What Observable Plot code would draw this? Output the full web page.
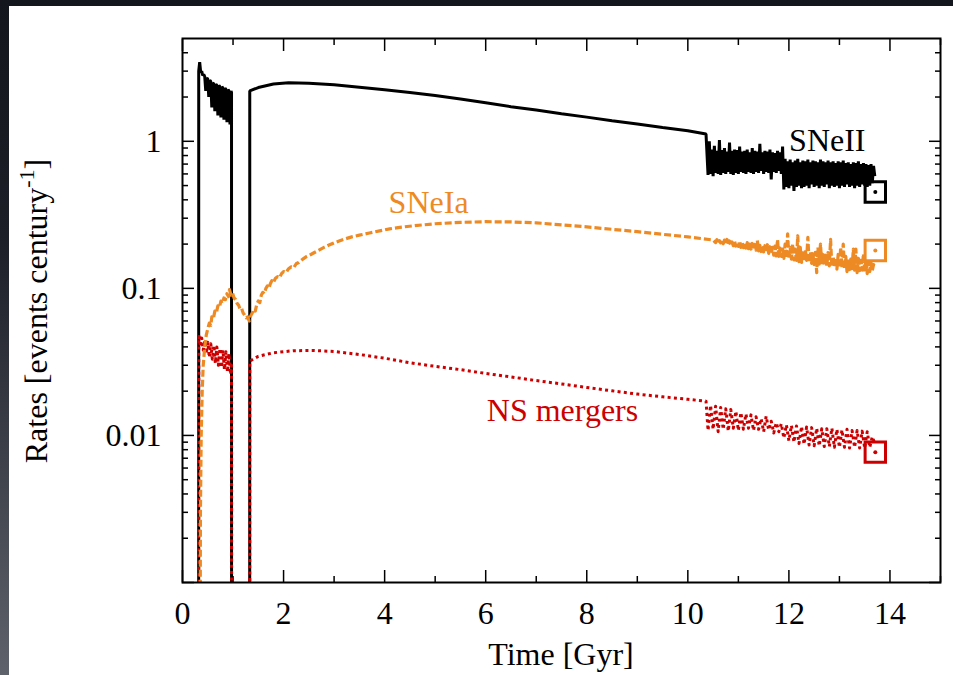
<!DOCTYPE html>
<html>
<head>
<meta charset="utf-8">
<script src="https://cdn.jsdelivr.net/npm/d3@7"></script>
<script src="https://cdn.jsdelivr.net/npm/@observablehq/plot@0.6"></script>
<style>
  html, body { margin: 0; padding: 0; width: 953px; height: 675px; overflow: hidden; }
  body { position: relative; background: linear-gradient(180deg, #14161d 0%, #1c1f27 35%, #5e626a 100%); }
  #panel { position: absolute; left: 9px; top: 6px; width: 944px; height: 669px; background: #fff; overflow: hidden; }
</style>
</head>
<body>
<div id="panel"></div>
<script>
// ---- Axis ticks ----
const majorTime = [0, 2, 4, 6, 8, 10, 12, 14];
const minorTime = [1, 3, 5, 7, 9, 11, 13, 15];
const majorRateTicks = [0.001, 0.01, 0.1, 1];
const labeledRateTicks = [0.01, 0.1, 1];
const minorRateTicks = [0.002, 0.003, 0.004, 0.005, 0.006, 0.007, 0.008, 0.009,
  0.02, 0.03, 0.04, 0.05, 0.06, 0.07, 0.08, 0.09,
  0.2, 0.3, 0.4, 0.5, 0.6, 0.7, 0.8, 0.9, 2, 3, 4];

// ---- SNeII rate (events per century) ----
const sn2Time = [0.32, 0.321, 0.34, 0.36, 0.38, 0.40, 0.42, 0.44, 0.46, 0.48, 0.50, 0.52, 0.54, 0.56, 0.58,
  0.60, 0.62, 0.64, 0.66, 0.68, 0.70, 0.72, 0.74, 0.76, 0.78, 0.80, 0.82, 0.84, 0.86, 0.88, 0.90,
  0.92, 0.94, 0.96, 0.97, 0.971,
  1.33, 1.331, 1.5, 1.8, 2.1, 2.5, 3.0, 3.5, 4.0, 4.5, 5.0, 5.5, 6.0, 6.5, 7.0, 7.5, 8.0, 8.5, 9.0,
  9.5, 10.0, 10.36,
  10.400, 10.425, 10.450, 10.475, 10.500, 10.525, 10.550, 10.575, 10.600, 10.625,
  10.650, 10.675, 10.700, 10.725, 10.750, 10.775, 10.800, 10.825, 10.850, 10.875,
  10.900, 10.925, 10.950, 10.975, 11.000, 11.025, 11.050, 11.075, 11.100, 11.125,
  11.150, 11.175, 11.200, 11.225, 11.250, 11.275, 11.300, 11.325, 11.350, 11.375,
  11.400, 11.425, 11.450, 11.475, 11.500, 11.525, 11.550, 11.575, 11.600, 11.625,
  11.650, 11.675, 11.700, 11.725, 11.750, 11.775, 11.800, 11.825, 11.850, 11.875,
  11.900, 11.925, 11.950, 11.975, 12.000, 12.025, 12.050, 12.075, 12.100, 12.125,
  12.150, 12.175, 12.200, 12.225, 12.250, 12.275, 12.300, 12.325, 12.350, 12.375,
  12.400, 12.425, 12.450, 12.475, 12.500, 12.525, 12.550, 12.575, 12.600, 12.625,
  12.650, 12.675, 12.700, 12.725, 12.750, 12.775, 12.800, 12.825, 12.850, 12.875,
  12.900, 12.925, 12.950, 12.975, 13.000, 13.025, 13.050, 13.075, 13.100, 13.125,
  13.150, 13.175, 13.200, 13.225, 13.250, 13.275, 13.300, 13.325, 13.350, 13.375,
  13.400, 13.425, 13.450, 13.475, 13.500, 13.525, 13.550, 13.575, 13.600, 13.625,
  13.650, 13.675, 13.700];
const sn2Rate = [0.0005, 3.0, 3.45, 2.95, 3.0, 2.8, 2.85, 2.75, 2.2, 2.7, 2.65, 2.0, 2.6, 2.55, 1.7,
  2.5, 2.45, 1.6, 2.45, 2.4, 1.5, 2.4, 2.35, 1.45, 2.35, 2.3, 1.4, 2.3, 2.25, 1.35, 2.25,
  2.2, 1.3, 2.2, 2.15, 0.0005,
  0.0005, 2.2, 2.32, 2.45, 2.5, 2.48, 2.42, 2.33, 2.24, 2.15, 2.05, 1.94, 1.83, 1.72, 1.63, 1.54, 1.46, 1.38, 1.31,
  1.24, 1.18, 1.12,
  0.59, 1.0, 0.60, 0.88, 0.58, 0.93, 0.61, 0.86, 0.60, 1.02,
  0.59, 0.87, 0.61, 0.9, 0.60, 0.85, 0.62, 0.98, 0.60, 0.86,
  0.59, 0.88, 0.61, 0.87, 0.60, 0.92, 0.62, 0.85, 0.61, 0.86,
  0.60, 0.88, 0.62, 0.84, 0.61, 0.9, 0.60, 0.86, 0.62, 0.85,
  0.61, 0.96, 0.63, 0.84, 0.60, 0.86, 0.62, 0.85, 0.61, 0.88,
  0.55, 0.84, 0.62, 0.83, 0.61, 0.86, 0.63, 0.84, 0.60, 0.92,
  0.47, 0.76, 0.49, 0.73, 0.48, 0.75, 0.5, 0.72, 0.46, 0.74,
  0.49, 0.76, 0.5, 0.72, 0.48, 0.74, 0.49, 0.73, 0.5, 0.75,
  0.48, 0.72, 0.51, 0.74, 0.49, 0.73, 0.5, 0.72, 0.48, 0.75,
  0.5, 0.73, 0.49, 0.72, 0.51, 0.74, 0.48, 0.72, 0.5, 0.73,
  0.49, 0.71, 0.5, 0.73, 0.48, 0.72, 0.5, 0.74, 0.49, 0.71,
  0.51, 0.72, 0.49, 0.7, 0.5, 0.72, 0.48, 0.71, 0.5, 0.73,
  0.49, 0.7, 0.51, 0.71, 0.5, 0.7, 0.49, 0.69, 0.5, 0.7,
  0.52, 0.68, 0.58];

// ---- SNeIa rate ----
const snIaTime = [0.35, 0.355, 0.37, 0.39, 0.41, 0.44, 0.47, 0.50, 0.53, 0.56, 0.58, 0.61, 0.64, 0.67,
  0.70, 0.73, 0.76, 0.79, 0.82, 0.85, 0.88, 0.91, 0.93, 0.96, 0.99, 1.02, 1.05, 1.08, 1.11, 1.14,
  1.17, 1.20, 1.23, 1.26, 1.29, 1.32, 1.35, 1.38, 1.41, 1.44, 1.47, 1.50, 1.53, 1.56, 1.59, 1.62,
  1.65, 1.68, 1.71, 1.74, 1.77, 1.80, 1.84, 1.88, 1.92, 1.96, 2.00, 2.05, 2.10, 2.15, 2.20, 2.25,
  2.30, 2.38, 2.46, 2.54, 2.62, 2.70, 2.80, 2.90, 3.00, 3.10, 3.20, 3.35, 3.50, 3.70, 3.90, 4.10,
  4.30, 4.60, 5.00, 5.50, 6.00, 6.50, 7.00, 7.50, 8.00, 8.50, 9.00, 9.50, 10.00, 10.50,
  10.550, 10.575, 10.600, 10.625, 10.650, 10.675, 10.700, 10.725, 10.750, 10.775,
  10.800, 10.825, 10.850, 10.875, 10.900, 10.925, 10.950, 10.975, 11.000, 11.025,
  11.050, 11.075, 11.100, 11.125, 11.150, 11.175, 11.200, 11.225, 11.250, 11.275,
  11.300, 11.325, 11.350, 11.375, 11.400, 11.425, 11.450, 11.475, 11.500, 11.525,
  11.550, 11.575, 11.600, 11.625, 11.650, 11.675, 11.700, 11.725, 11.750, 11.775,
  11.800, 11.825, 11.850, 11.875, 11.900, 11.925, 11.950, 11.975, 12.000, 12.025,
  12.050, 12.075, 12.100, 12.125, 12.150, 12.175, 12.200, 12.225, 12.250, 12.275,
  12.300, 12.325, 12.350, 12.375, 12.400, 12.425, 12.450, 12.475, 12.500, 12.525,
  12.550, 12.575, 12.600, 12.625, 12.650, 12.675, 12.700, 12.725, 12.750, 12.775,
  12.800, 12.825, 12.850, 12.875, 12.900, 12.925, 12.950, 12.975, 13.000, 13.025,
  13.050, 13.075, 13.100, 13.125, 13.150, 13.175, 13.200, 13.225, 13.250, 13.275,
  13.300, 13.325, 13.350, 13.375, 13.400, 13.425, 13.450, 13.475, 13.500, 13.525,
  13.550, 13.575, 13.600, 13.625, 13.650, 13.675, 13.700];
const snIaRate = [0.0005, 0.003, 0.01, 0.02, 0.03, 0.04, 0.048, 0.053, 0.058, 0.056, 0.064, 0.062, 0.07, 0.068,
  0.076, 0.074, 0.082, 0.079, 0.086, 0.084, 0.092, 0.088, 0.098, 0.09, 0.093, 0.086, 0.084, 0.079, 0.077, 0.072,
  0.073, 0.068, 0.066, 0.063, 0.064, 0.06, 0.065, 0.068, 0.072, 0.07, 0.078, 0.082, 0.08, 0.09, 0.094, 0.092,
  0.1, 0.104, 0.1, 0.108, 0.113, 0.11, 0.117, 0.12, 0.118, 0.126, 0.13, 0.128, 0.136, 0.14, 0.138, 0.147,
  0.15, 0.158, 0.165, 0.17, 0.176, 0.182, 0.19, 0.197, 0.204, 0.21, 0.216, 0.224, 0.23, 0.238, 0.246, 0.254,
  0.26, 0.267, 0.275, 0.281, 0.284, 0.283, 0.279, 0.27, 0.262, 0.252, 0.243, 0.233, 0.224, 0.213,
  0.205, 0.214, 0.203, 0.211, 0.204, 0.212, 0.201, 0.213, 0.2, 0.215,
  0.198, 0.21, 0.197, 0.207, 0.195, 0.209, 0.194, 0.206, 0.193, 0.21,
  0.19, 0.204, 0.189, 0.203, 0.188, 0.205, 0.186, 0.2, 0.185, 0.202,
  0.183, 0.199, 0.182, 0.212, 0.18, 0.196, 0.178, 0.197, 0.177, 0.195,
  0.176, 0.198, 0.173, 0.192, 0.172, 0.19, 0.168, 0.194, 0.166, 0.215,
  0.165, 0.188, 0.165, 0.185, 0.16, 0.2, 0.16, 0.235, 0.158, 0.19,
  0.158, 0.2, 0.156, 0.185, 0.155, 0.228, 0.152, 0.19, 0.15, 0.18,
  0.152, 0.182, 0.155, 0.222, 0.15, 0.178, 0.148, 0.172, 0.145, 0.176,
  0.128, 0.19, 0.146, 0.2, 0.146, 0.17, 0.145, 0.168, 0.142, 0.175,
  0.142, 0.215, 0.14, 0.165, 0.14, 0.162, 0.135, 0.17, 0.138, 0.19,
  0.138, 0.2, 0.136, 0.165, 0.13, 0.16, 0.134, 0.158, 0.136, 0.185,
  0.133, 0.185, 0.128, 0.16, 0.132, 0.155, 0.133, 0.172, 0.13, 0.155,
  0.126, 0.15, 0.13, 0.15, 0.132, 0.145, 0.14];

// ---- NS merger rate ----
const nsTime = [0.32, 0.321, 0.33, 0.35, 0.38, 0.41, 0.44, 0.47, 0.50, 0.53, 0.56, 0.59, 0.62, 0.65, 0.68,
  0.71, 0.74, 0.77, 0.80, 0.83, 0.86, 0.89, 0.92, 0.95, 0.97, 0.971,
  1.33, 1.331, 1.5, 1.8, 2.2, 2.6, 3.0, 3.5, 4.0, 4.5, 5.0, 5.5, 6.0, 6.5, 7.0, 7.5, 8.0, 8.5, 9.0,
  9.5, 10.0, 10.36,
  10.40, 10.45, 10.50, 10.55, 10.60, 10.65, 10.70, 10.75, 10.80, 10.85, 10.90, 10.95, 11.00, 11.05,
  11.10, 11.15, 11.20, 11.25, 11.30, 11.35, 11.40, 11.45, 11.50, 11.55, 11.60, 11.65, 11.70, 11.75,
  11.80, 11.85, 11.90, 11.95, 12.00, 12.05, 12.10, 12.15, 12.20, 12.25, 12.30, 12.35, 12.40, 12.45,
  12.50, 12.55, 12.60, 12.65, 12.70, 12.75, 12.80, 12.85, 12.90, 12.95, 13.00, 13.05, 13.10, 13.15,
  13.20, 13.25, 13.30, 13.35, 13.40, 13.45, 13.50, 13.55, 13.60, 13.65, 13.70];
const nsRate = [0.0005, 0.044, 0.047, 0.04, 0.046, 0.038, 0.044, 0.036, 0.043, 0.034, 0.042, 0.033, 0.041, 0.031, 0.04,
  0.03, 0.039, 0.029, 0.038, 0.028, 0.037, 0.027, 0.036, 0.026, 0.03, 0.0005,
  0.0005, 0.032, 0.0345, 0.0365, 0.0377, 0.0378, 0.0372, 0.0355, 0.0335, 0.0312, 0.0295, 0.028, 0.0264, 0.025, 0.0236, 0.0224, 0.0212, 0.0201, 0.0191,
  0.0183, 0.0176, 0.0171,
  0.0108, 0.016, 0.011, 0.0158, 0.0106, 0.0155, 0.011, 0.0152, 0.0107, 0.015, 0.0112, 0.0146, 0.0108, 0.0143,
  0.011, 0.014, 0.0112, 0.0138, 0.0108, 0.0134, 0.011, 0.013, 0.0106, 0.0135, 0.0109, 0.0125, 0.0104, 0.0122,
  0.0106, 0.012, 0.0096, 0.0118, 0.0092, 0.0117, 0.009, 0.0116, 0.0088, 0.0115, 0.0087, 0.0114, 0.0086, 0.0113,
  0.0085, 0.0112, 0.0085, 0.0111, 0.0084, 0.0111, 0.0084, 0.0112, 0.0083, 0.011, 0.0083, 0.0109, 0.0083, 0.011,
  0.0082, 0.0108, 0.0083, 0.0108, 0.0082, 0.0107, 0.0082, 0.0106, 0.0083, 0.0098, 0.0088];

// ---- Present-day observed rates ----
const obsNames = ["SNeII", "SNeIa", "NS mergers"];
const obsTime = [13.71, 13.71, 13.71];
const obsRate = [0.452, 0.181, 0.0077];
const obsColor = ["#000000", "#ee8a24", "#cc0000"];

// ---- Series labels ----
const labelText = ["SNeII", "SNeIa", "NS mergers"];
const labelTime = [12.76, 4.87, 7.52];
const labelRate = [1.01, 0.384, 0.0148];

const rows = (ts, vs) => ts.map((t, i) => ({t, v: vs[i]}));
const sn2 = rows(sn2Time, sn2Rate);
const snIa = rows(snIaTime, snIaRate);
const ns = rows(nsTime, nsRate);
const obs = obsTime.map((t, i) => ({t, v: obsRate[i], c: obsColor[i], name: obsNames[i]}));
const labels = labelText.map((s, i) => ({s, t: labelTime[i], v: labelRate[i], c: obsColor[i]}));

const W = 944, H = 669;
const blank = () => "";
const tickOpts = {tickFormat: blank, label: null, strokeWidth: 1.5};

const chart = Plot.plot({
  width: W, height: H,
  marginLeft: 173, marginRight: 13, marginTop: 32, marginBottom: 93,
  style: {fontFamily: "'Liberation Serif', 'Times New Roman', serif", fontSize: "32px", color: "#000", background: "#fff", overflow: "visible"},
  x: {domain: [0, 15]},
  y: {type: "log", domain: [0.001, 5]},
  marks: [
    // inward tick marks on all four sides
    Plot.axisX(majorTime, {anchor: "bottom", tickSize: -12, ...tickOpts}),
    Plot.axisX(minorTime, {anchor: "bottom", tickSize: -6, ...tickOpts}),
    Plot.axisX(majorTime, {anchor: "top", tickSize: -12, ...tickOpts}),
    Plot.axisX(minorTime, {anchor: "top", tickSize: -6, ...tickOpts}),
    Plot.axisY(majorRateTicks, {anchor: "left", tickSize: -12, ...tickOpts}),
    Plot.axisY(minorRateTicks, {anchor: "left", tickSize: -6, ...tickOpts}),
    Plot.axisY(majorRateTicks, {anchor: "right", tickSize: -12, ...tickOpts}),
    Plot.axisY(minorRateTicks, {anchor: "right", tickSize: -6, ...tickOpts}),
    // tick labels
    Plot.axisX(majorTime, {anchor: "bottom", tickSize: 0, tickPadding: 19, label: null, tickFormat: d => String(d)}),
    Plot.axisY(labeledRateTicks, {anchor: "left", tickSize: 0, tickPadding: 21, label: null, tickFormat: d => String(d)}),
    // rate curves
    Plot.line(sn2, {x: "t", y: "v", stroke: "#000", strokeWidth: 3, clip: true, strokeLinejoin: "miter", strokeLinecap: "butt"}),
    Plot.line(ns, {x: "t", y: "v", stroke: "#cc0000", strokeWidth: 3, strokeDasharray: "3,3.3", strokeLinecap: "butt", clip: true}),
    Plot.line(snIa, {x: "t", y: "v", stroke: "#ee8a24", strokeWidth: 3.2, strokeDasharray: "7,3", strokeLinecap: "butt", clip: true}),
    // observed present-day rates
    Plot.dot(obs, {x: "t", y: "v", symbol: "square", r: 11.5, stroke: "c", strokeWidth: 3, fill: "none"}),
    Plot.dot(obs, {x: "t", y: "v", r: 2, fill: "c", stroke: null}),
    // series labels
    Plot.text(labels, {x: "t", y: "v", text: "s", fill: "c", fontSize: 32, textAnchor: "middle", lineAnchor: "middle"}),
    Plot.frame({stroke: "#000", strokeWidth: 2})
  ]
});

const svg = d3.select(chart);
// axis titles
svg.append("text")
  .attr("x", (173 + W - 13) / 2).attr("y", 659)
  .attr("text-anchor", "middle").attr("fill", "#000").attr("font-size", 32)
  .text("Time [Gyr]");
const yTitle = svg.append("text")
  .attr("transform", "translate(38,305) rotate(-90)")
  .attr("text-anchor", "middle").attr("fill", "#000").attr("font-size", 32);
yTitle.append("tspan").text("Rates [events century");
yTitle.append("tspan").attr("dy", -13).attr("font-size", 22).text("-1");
yTitle.append("tspan").attr("dy", 13).text("]");

document.getElementById("panel").appendChild(chart);
</script>
</body>
</html>
